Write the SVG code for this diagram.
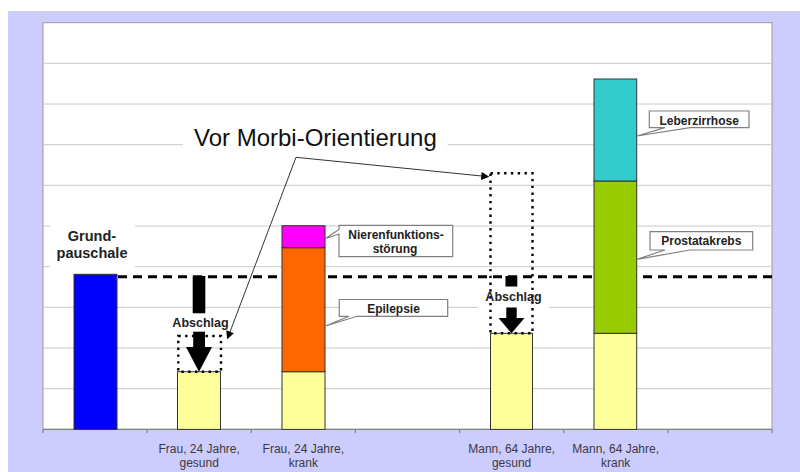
<svg xmlns="http://www.w3.org/2000/svg" width="800" height="472" viewBox="0 0 800 472">
<defs>
<style>
.grid{stroke:#c8c8c8;stroke-width:1}
.bar{stroke:#333;stroke-width:1}
.call{fill:#fff;stroke:#808080;stroke-width:1.2}
.ct{font-family:"Liberation Sans",Arial,sans-serif;font-weight:bold;font-size:12px;fill:#222;text-anchor:middle}
.cat{font-family:"Liberation Sans",Arial,sans-serif;font-size:12px;fill:#3a3a3a;text-anchor:middle}
.dot{fill:none;stroke:#000;stroke-width:2.4;stroke-dasharray:2.4 4.4}
.blk{fill:#000}
</style>
<marker id="ah" viewBox="0 0 10 10" refX="9" refY="5" markerWidth="9" markerHeight="8" markerUnits="userSpaceOnUse" orient="auto-start-reverse">
<path d="M0,0 L10,5 L0,10 Z" fill="#000"/>
</marker>
</defs>
<rect x="0" y="0" width="800" height="472" fill="#fff"/>
<rect x="8" y="11" width="792" height="461" fill="#ccccff"/>
<g id="plot">
<rect x="43" y="22.7" width="729" height="406.7" fill="#fff" stroke="#9a9a9a" stroke-width="1"/>
<g class="grid">
<line x1="43" y1="63.3" x2="772" y2="63.3"/>
<line x1="43" y1="104" x2="772" y2="104"/>
<line x1="43" y1="144.7" x2="772" y2="144.7"/>
<line x1="43" y1="185.3" x2="772" y2="185.3"/>
<line x1="43" y1="226" x2="772" y2="226"/>
<line x1="43" y1="266.7" x2="772" y2="266.7"/>
<line x1="43" y1="307.3" x2="772" y2="307.3"/>
<line x1="43" y1="348" x2="772" y2="348"/>
<line x1="43" y1="388.7" x2="772" y2="388.7"/>
</g>
<rect x="183" y="122" width="265" height="32" fill="#fff"/>
<rect x="50" y="219" width="85" height="51" fill="#fff"/>
<rect x="478" y="289" width="71" height="21" fill="#fff"/>
<g stroke="#808080" stroke-width="1.2">
<line x1="43" y1="429.4" x2="772" y2="429.4"/>
<line x1="43" y1="429.4" x2="43" y2="433"/>
<line x1="147.1" y1="429.4" x2="147.1" y2="433"/>
<line x1="251.3" y1="429.4" x2="251.3" y2="433"/>
<line x1="355.4" y1="429.4" x2="355.4" y2="433"/>
<line x1="459.6" y1="429.4" x2="459.6" y2="433"/>
<line x1="563.7" y1="429.4" x2="563.7" y2="433"/>
<line x1="667.9" y1="429.4" x2="667.9" y2="433"/>
<line x1="772" y1="429.4" x2="772" y2="433"/>
</g>
</g>
<g id="reference-line">
<line x1="118" y1="276.7" x2="772" y2="276.7" stroke="#000" stroke-width="3" stroke-dasharray="9 6"/>
</g>
<g id="grundpauschale">
<rect class="bar" x="74" y="274.3" width="43" height="155.1" fill="#0000ff"/>
<text class="ct" x="92" y="240.7" style="font-size:14.5px">Grund-</text>
<text class="ct" x="92" y="257.5" style="font-size:14.5px">pauschale</text>
</g>
<g id="frau-gesund">
<rect class="bar" x="177.5" y="371.7" width="43" height="57.7" fill="#ffff99"/>
<text class="cat" x="199.2" y="452.5">Frau, 24 Jahre,</text>
<text class="cat" x="199.2" y="467">gesund</text>
</g>
<g id="frau-krank">
<rect class="bar" x="282" y="371.7" width="43" height="57.7" fill="#ffff99"/>
<rect class="bar" x="282" y="247.7" width="43" height="124" fill="#ff6600"/>
<rect class="bar" x="282" y="225.7" width="43" height="22" fill="#ff00ff"/>
<text class="cat" x="303.3" y="452.5">Frau, 24 Jahre,</text>
<text class="cat" x="303.3" y="467">krank</text>
</g>
<g id="mann-gesund">
<rect class="bar" x="490.5" y="333.3" width="42" height="96.1" fill="#ffff99"/>
<text class="cat" x="511.6" y="452.5">Mann, 64 Jahre,</text>
<text class="cat" x="511.6" y="467">gesund</text>
</g>
<g id="mann-krank">
<rect class="bar" x="594" y="333.3" width="42.7" height="96.1" fill="#ffff99"/>
<rect class="bar" x="594" y="181" width="42.7" height="152.3" fill="#99cc00"/>
<rect class="bar" x="594" y="79" width="42.7" height="102" fill="#33cccc"/>
<text class="cat" x="615.7" y="452.5">Mann, 64 Jahre,</text>
<text class="cat" x="615.7" y="467">krank</text>
</g>
<g id="label-nierenfunktion">
<path class="call" d="M339,225.3 H452.7 V256.7 H339 V234 L325.5,238.5 L339,229.5 Z"/>
<text class="ct" x="396" y="238.5">Nierenfunktions-</text>
<text class="ct" x="395" y="252.5">störung</text>
</g>
<g id="label-epilepsie">
<path class="call" d="M339.3,299.5 H447.7 V316.3 H357 L325.5,326 L349,316.3 H339.3 Z"/>
<text class="ct" x="393.5" y="312.5">Epilepsie</text>
</g>
<g id="label-leberzirrhose">
<path class="call" d="M649.3,111 H749 V127.7 H690 L637,136 L665,127.7 H649.3 Z"/>
<text class="ct" x="699.2" y="124.5">Leberzirrhose</text>
</g>
<g id="label-prostatakrebs">
<path class="call" d="M650,231.7 H752.7 V250 H690 L637,259.3 L665,250 H650 Z"/>
<text class="ct" x="701.3" y="245.3">Prostatakrebs</text>
</g>
<g id="abschlag-frau">
<rect class="dot" x="178.3" y="336" width="42.7" height="35.7"/>
<rect class="blk" x="192.7" y="276" width="12.6" height="37.3"/>
<rect class="blk" x="193.2" y="331.7" width="11.8" height="16"/>
<path class="blk" d="M186,347 L212,347 L199,371.7 Z"/>
<text class="ct" x="200.5" y="326.5" style="font-size:12.5px">Abschlag</text>
</g>
<g id="abschlag-mann">
<rect class="dot" x="490.5" y="173.3" width="42" height="160"/>
<rect class="blk" x="505.5" y="276" width="11.8" height="10.5"/>
<rect class="blk" x="506.3" y="307.5" width="10.4" height="11"/>
<path class="blk" d="M498.5,318 L524.5,318 L511.5,333.3 Z"/>
<text class="ct" x="513.5" y="300.8" style="font-size:12.5px">Abschlag</text>
</g>
<g id="title">
<text x="194" y="145.5" font-family="'Liberation Sans',Arial,sans-serif" font-size="24" fill="#111">Vor Morbi-Orientierung</text>
</g>
<g id="connectors">
<polyline points="227.5,338.5 296,157.3 488.5,176.7" fill="none" stroke="#333" stroke-width="1" marker-start="url(#ah)" marker-end="url(#ah)"/>
</g>
</svg>
